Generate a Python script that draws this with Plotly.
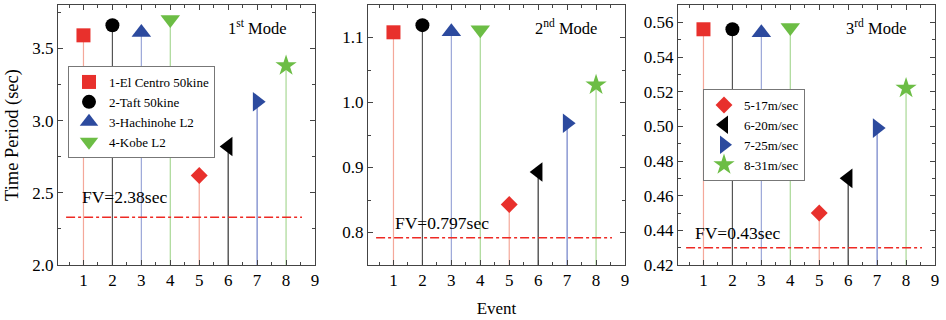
import plotly.graph_objects as go

events = [1, 2, 3, 4, 5, 6, 7, 8]
labels = ["1-El Centro 50kine", "2-Taft 50kine", "3-Hachinohe L2", "4-Kobe L2",
          "5-17m/sec", "6-20m/sec", "7-25m/sec", "8-31m/sec"]
mode1 = [3.59, 3.66, 3.61, 3.70, 2.62, 2.82, 3.13, 3.38]
mode2 = [1.108, 1.119, 1.109, 1.112, 0.843, 0.893, 0.968, 1.027]
mode3 = [0.556, 0.556, 0.554, 0.557, 0.450, 0.470, 0.499, 0.522]
fv_values = [2.33, 0.792, 0.430]
fv_labels = ["FV=2.38sec", "FV=0.797sec", "FV=0.43sec"]
mode_titles = ["1<sup>st</sup> Mode", "2<sup>nd</sup> Mode", "3<sup>rd</sup> Mode"]
x_ticks = [1, 2, 3, 4, 5, 6, 7, 8, 9]

# styles
symbols = ["square", "circle", "triangle-up", "triangle-down",
           "diamond", "triangle-left", "triangle-right", "star"]
mcolors = ["#e8302c", "#000000", "#2c4a9e", "#6cbd45",
           "#e8302c", "#000000", "#2c4a9e", "#6cbd45"]
stemcolors = ["#f4a89a", "#555555", "#9aa6d8", "#a9d895",
              "#f4a89a", "#333333", "#6f7fc8", "#a9d895"]
msizes = [14, 14, 17, 17, 13, 17, 17, 16]
fv_label_x = [0.89, 1.0, 0.65]
fv_label_dy = [20, 15, 15]

FONT = "Liberation Serif"
TXT = "#000000"
yranges = [[2.0, 3.8], [0.75, 1.15], [0.42, 0.57]]
ydtick = [0.5, 0.1, 0.02]
yfmt = [".1f", ".1f", ".2f"]
xdomains = [[58/946, 315/946], [368/946, 625/946], [678/946, 935/946]]
ydomain = [55/320, 315/320]
data = [mode1, mode2, mode3]

fig = go.Figure()
for p in range(3):
    xa = "x" if p == 0 else f"x{p+1}"
    ya = "y" if p == 0 else f"y{p+1}"
    ymin = yranges[p][0]
    vals = data[p]
    for i, e in enumerate(events):
        fig.add_trace(go.Scatter(x=[e, e], y=[ymin, vals[i]], mode="lines",
                                 line=dict(color=stemcolors[i], width=1.2),
                                 showlegend=False, hoverinfo="skip",
                                 xaxis=xa, yaxis=ya))
    fig.add_trace(go.Scatter(x=[0.4, 8.55], y=[fv_values[p]] * 2, mode="lines",
                             line=dict(color="#ee2a24", width=1.5, dash="dashdot"),
                             showlegend=False, hoverinfo="skip",
                             xaxis=xa, yaxis=ya))
    for i, e in enumerate(events):
        show = (p == 0 and i < 4) or (p == 2 and i >= 4)
        fig.add_trace(go.Scatter(x=[e], y=[vals[i]], mode="markers",
                                 marker=dict(symbol=symbols[i], color=mcolors[i],
                                             size=msizes[i], line=dict(width=0)),
                                 name=labels[i], showlegend=show,
                                 legend="legend" if i < 4 else "legend2",
                                 xaxis=xa, yaxis=ya))
    fig.add_annotation(x=fv_label_x[p], y=fv_values[p], xref=xa, yref=ya, text=fv_labels[p],
                       showarrow=False, xanchor="left", yanchor="middle",
                       yshift=fv_label_dy[p],
                       font=dict(family=FONT, size=17.5, color=TXT))
    fig.add_annotation(x=xdomains[p][1] - 26/946, y=1 - 15/320,
                       xref="paper", yref="paper", text=mode_titles[p],
                       showarrow=False, xanchor="right", yanchor="top",
                       font=dict(family=FONT, size=16.5, color=TXT))

    axis_common = dict(showline=True, mirror="ticks", linecolor="#444", linewidth=1,
                       ticks="inside", ticklen=5, tickcolor="#444", showgrid=False,
                       zeroline=False, automargin=False,
                       tickfont=dict(family=FONT, size=17, color=TXT))
    xkey = "xaxis" if p == 0 else f"xaxis{p+1}"
    ykey = "yaxis" if p == 0 else f"yaxis{p+1}"
    fig.layout[xkey] = dict(axis_common, domain=xdomains[p], range=[0.12, 9],
                            tickvals=x_ticks, anchor=ya,
                            minor=dict(dtick=0.5, ticklen=3, ticks="inside", tickcolor="#444"))
    fig.layout[ykey] = dict(axis_common, domain=ydomain, range=yranges[p],
                            dtick=ydtick[p], tick0=0, tickformat=yfmt[p],
                            anchor=xa,
                            minor=dict(dtick=ydtick[p] / 2, tick0=0, ticklen=3,
                                       ticks="inside", tickcolor="#444"))

fig.layout.yaxis.title = dict(text="Time Period (sec)",
                              font=dict(family=FONT, size=18.5, color=TXT), standoff=8)
fig.layout.xaxis2.title = dict(text="Event", font=dict(family=FONT, size=17, color=TXT),
                               standoff=12)

legend_common = dict(bgcolor="white", bordercolor="#777", borderwidth=1,
                     font=dict(family=FONT, size=13, color=TXT),
                     xanchor="left", yanchor="top", tracegroupgap=0,
                     itemsizing="trace")
fig.update_layout(
    width=946, height=320,
    margin=dict(l=0, r=0, t=0, b=0, autoexpand=False),
    paper_bgcolor="white", plot_bgcolor="white",
    legend=dict(legend_common, x=68/946, y=1 - 66/320),
    legend2=dict(legend_common, x=703/946, y=1 - 89/320),
    font=dict(family=FONT),
)

fig.write_html("out.html", config={"displayModeBar": False},
               post_script="document.body.style.margin='0';document.body.style.overflow='hidden';")
